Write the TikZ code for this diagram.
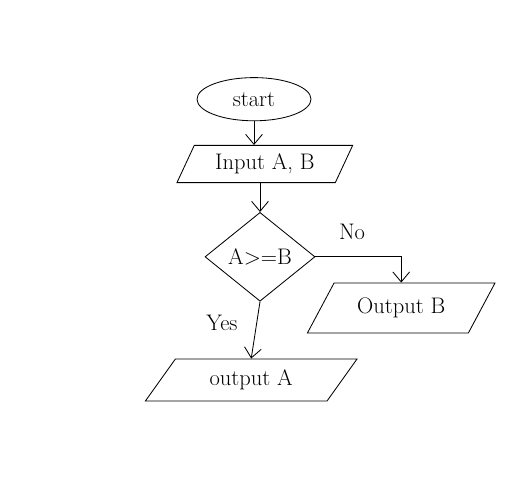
\documentclass[tikz,border=0pt]{standalone}
\usetikzlibrary{shapes.geometric,arrows.meta}
\newcommand{\handsize}{\fontsize{16}{19}\selectfont}
\tikzset{
    >={Straight Barb[length=2.5mm,width=4.2mm]},
    every path/.style={semithick},
    io/.style={draw,trapezium,trapezium stretches=true,inner sep=0pt,font=\handsize},
}
\begin{document}
\begin{tikzpicture}
        \useasboundingbox (0,0) rectangle (12.8,12);
        \node[draw,ellipse,minimum width=2.85cm,minimum height=1.08cm,font=\handsize] (start) at (6.35,9.52) {start};
        \node[io,trapezium left angle=59,trapezium right angle=121,minimum width=4.42cm,minimum height=0.93cm] (input) at (6.62,7.9) {Input A, B};
        \node[draw,diamond,inner sep=0pt,minimum width=2.75cm,minimum height=2.22cm,font=\handsize] (dec) at (6.5,5.58) {A>=B};
        \node[io,trapezium left angle=49,trapezium right angle=131,minimum width=4.7cm,minimum height=1.25cm] (outB) at (10.03,4.3) {Output B};
        \node[io,trapezium left angle=51,trapezium right angle=129,minimum width=5.3cm,minimum height=1.05cm] (outA) at (6.28,2.5) {output A};
        \draw[->] (start.south) -- (start.south |- input.north);
        \draw[->] (input.south -| dec.north) -- (dec.north);
        \draw[->] (dec.east) -| (outB.north);
        \draw[->] (dec.south) -- (outA.north);
        \node[font=\handsize] (no) at (8.8,6.2) {No};
        \node[font=\handsize] (yes) at (5.55,3.92) {Yes};
    \end{tikzpicture}
\end{document}
